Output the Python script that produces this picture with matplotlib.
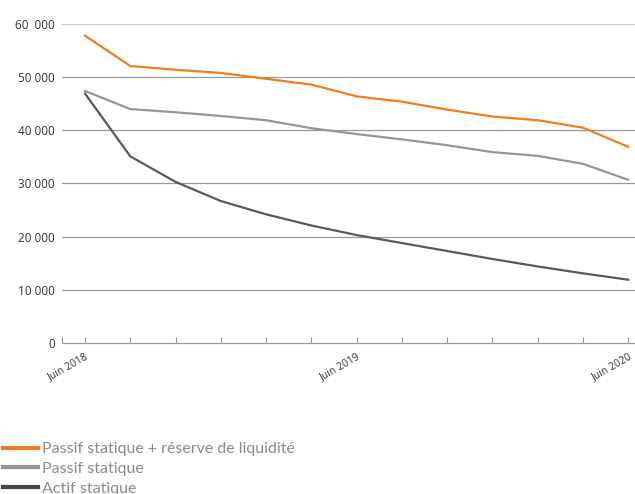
import matplotlib
matplotlib.use("Agg")
import matplotlib.pyplot as plt
import numpy as np

# 13 points, tous les deux mois de juin 2018 a juin 2020
x_labels = ["Juin 2018", "", "", "", "", "", "Juin 2019", "", "", "", "", "", "Juin 2020"]

passif_reserve = [57800, 52100, 51400, 50800, 49700, 48600, 46400, 45400, 43900, 42600, 41900, 40500, 36900]
passif = [47400, 44000, 43400, 42700, 41900, 40400, 39300, 38300, 37200, 35900, 35200, 33700, 30700]
actif = [46900, 35100, 30300, 26700, 24200, 22100, 20300, 18800, 17300, 15800, 14400, 13100, 11900]

y_ticks = [0, 10000, 20000, 30000, 40000, 50000, 60000]
y_labels = ["0", "10 000", "20 000", "30 000", "40 000", "50 000", "60  000"]


def main():
    fig = plt.figure(figsize=(6.35, 4.94), dpi=100)
    ax = fig.add_axes([0.0976, 0.3057, 0.9024, 0.6457])

    x = np.arange(len(x_labels))
    for yv in y_ticks[1:]:
        ax.axhline(yv, color="#cccccc" if yv == 60000 else "#9a9a9a", linewidth=0.9, zorder=1)

    l1, = ax.plot(x, passif_reserve, color="#f07f1f", linewidth=1.6, zorder=3)
    l2, = ax.plot(x, passif, color="#969696", linewidth=1.6, zorder=3)
    l3, = ax.plot(x, actif, color="#5a5a5a", linewidth=1.6, zorder=3)

    ax.set_xlim(-0.51, 12.15)
    ax.set_ylim(0, 60000)

    for s in ["top", "right", "left"]:
        ax.spines[s].set_visible(False)
    ax.spines["bottom"].set_color("#9a9a9a")
    ax.spines["bottom"].set_linewidth(0.9)

    ax.set_xticks(list(x) + [-0.51])
    ax.set_xticklabels(x_labels + [""], rotation=30, ha="right", rotation_mode="anchor",
                       fontsize=7.5, color="#333333", family="Open Sans")
    ax.tick_params(axis="x", direction="in", length=4, color="#9a9a9a", pad=6)

    ax.set_yticks(y_ticks)
    ax.set_yticklabels(y_labels, fontsize=8.5, color="#333333", family="Open Sans")
    ax.tick_params(axis="y", length=0, pad=5)

    leg = fig.legend([l1, l2, l3],
                     ["Passif statique + réserve de liquidité", "Passif statique", "Actif statique"],
                     loc="lower left", bbox_to_anchor=(0.004, -0.004), frameon=False,
                     handlelength=2.25, handletextpad=0.25, labelspacing=0.36,
                     borderaxespad=0, borderpad=0.0,
                     prop={"family": "Lato", "size": 11.5})
    for h, c in zip(leg.legend_handles, ["#f07f1f", "#969696", "#444444"]):
        h.set_linewidth(3)
        h.set_color(c)
    for t in leg.get_texts():
        t.set_color("#8c8c8c")

    fig.savefig("out.png", dpi=100)


if __name__ == '__main__':
    main()
